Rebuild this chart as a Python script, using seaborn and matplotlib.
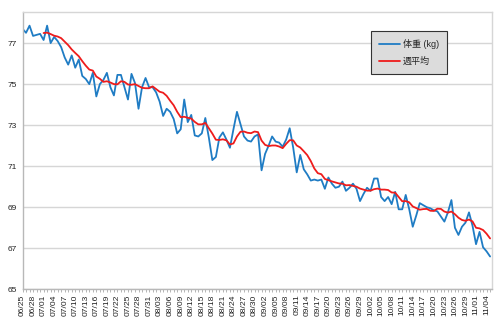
import matplotlib
matplotlib.use("Agg")
import matplotlib.pyplot as plt
import seaborn as sns
import pandas as pd
import numpy as np
from matplotlib.ticker import MultipleLocator

# ---- data ----
start_date = "2011-06-25"
weight = [
    77.7, 77.5, 77.85, 77.35, 77.4, 77.45, 77.15, 77.85, 77.0, 77.3,
    77.1, 76.8, 76.3, 75.95, 76.4, 75.8, 76.2, 75.4, 75.25, 75.0,
    75.55, 74.4, 75.0, 75.2, 75.55, 74.85, 74.45, 75.45, 75.45, 74.85,
    74.25, 75.5, 75.05, 73.8, 74.85, 75.3, 74.85, 74.85, 74.6, 74.15,
    73.45, 73.8, 73.65, 73.3, 72.6, 72.8, 74.25, 73.15, 73.5, 72.5,
    72.45, 72.6, 73.35, 72.4, 71.3, 71.45, 72.4, 72.65, 72.3, 71.9,
    72.8, 73.65, 73.05, 72.45, 72.25, 72.2, 72.45, 72.55, 70.8, 71.6,
    72.0, 72.45, 72.2, 72.15, 71.95, 72.3, 72.85, 71.9, 70.7, 71.55,
    70.85, 70.6, 70.3, 70.35, 70.3, 70.35, 69.9, 70.45, 70.15, 69.95,
    70.0, 70.25, 69.8, 69.95, 70.15, 69.9, 69.3, 69.65, 69.95, 69.8,
    70.4, 70.4, 69.5, 69.3, 69.5, 69.15, 69.75, 68.9, 68.9, 69.6,
    68.9, 68.05, 68.6, 69.2, 69.1, 69.0, 68.95, 68.85, 68.8, 68.55,
    68.3, 68.75, 69.35, 68.0, 67.65, 68.05, 68.25, 68.75, 68.1, 67.2,
    67.8, 67.05, 66.85, 66.6,
]
# weekly average line (starts on the 7th day)
weekly_avg = [
    77.49, 77.51, 77.44, 77.36, 77.32, 77.24, 77.07, 76.90, 76.69, 76.52,
    76.36, 76.12, 75.90, 75.71, 75.66, 75.37, 75.26, 75.11, 75.14, 75.08,
    75.00, 74.99, 75.14, 75.11, 74.98, 74.97, 75.00, 74.91, 74.82, 74.80,
    74.80, 74.89, 74.76, 74.63, 74.58, 74.43, 74.19, 73.97, 73.65, 73.39,
    73.41, 73.36, 73.32, 73.16, 73.04, 73.04, 73.11, 72.85, 72.59, 72.29,
    72.28, 72.31, 72.26, 72.06, 72.11, 72.45, 72.68, 72.69, 72.63, 72.61,
    72.69, 72.66, 72.25, 72.04, 71.98, 72.01, 72.01, 71.96, 71.88, 72.09,
    72.27, 72.26, 72.01, 71.91, 71.73, 71.54, 71.25, 70.89, 70.66, 70.61,
    70.38, 70.32, 70.26, 70.21, 70.16, 70.15, 70.07, 70.08, 70.04, 70.00,
    69.91, 69.86, 69.81, 69.81, 69.88, 69.91, 69.86, 69.86, 69.84, 69.72,
    69.71, 69.50, 69.29, 69.30, 69.24, 69.04, 68.96, 68.88, 68.91, 68.92,
    68.83, 68.82, 68.93, 68.92, 68.79, 68.74, 68.79, 68.66, 68.49, 68.38,
    68.34, 68.40, 68.31, 68.00, 67.97, 67.89, 67.71, 67.48,
]
y_ticks = [65, 67, 69, 71, 73, 75, 77]
series_names = ["体重 (kg)", "週平均"]

dates = pd.date_range(start_date, periods=len(weight))
date_labels = [d.strftime("%m/%d") for d in dates]
day = np.arange(len(weight))
avg_offset = len(weight) - len(weekly_avg)

df_w = pd.DataFrame({"day": day, "value": weight})
df_a = pd.DataFrame({"day": day[avg_offset:], "value": weekly_avg})

# ---- style ----
sns.set_style("white")
plt.rcParams["font.family"] = ["Liberation Sans", "Noto Sans CJK JP", "DejaVu Sans"]

fig = plt.figure(figsize=(5.0, 3.24), dpi=100)
ax = fig.add_axes([0.045, 0.107, 0.938, 0.855])

blue = "#1f7cc4"
red = "#ee1c1c"
sns.lineplot(data=df_w, x="day", y="value", ax=ax, color=blue, linewidth=1.3,
             label=series_names[0])
sns.lineplot(data=df_a, x="day", y="value", ax=ax, color=red, linewidth=1.3,
             label=series_names[1])

ax.set_xlim(0, 133.4)
ax.set_ylim(65, 78.5)
ax.set_yticks(y_ticks)
ax.set_yticklabels([str(v) for v in y_ticks], fontsize=6, color="#222222")
ax.set_xticks(day[::3])
ax.set_xticklabels(date_labels[::3], rotation=90, fontsize=6.1, color="#222222")
ax.xaxis.set_minor_locator(MultipleLocator(1))
ax.tick_params(axis="x", which="both", direction="out", length=2.2, width=0.6,
               color="#aaaaaa", bottom=True, pad=1.5)
ax.tick_params(axis="y", length=0, pad=4)
ax.set_xlabel("")
ax.set_ylabel("")

ax.yaxis.grid(True, color="#d6d6d6", linewidth=1.0)
ax.xaxis.grid(False)
ax.set_axisbelow(True)
for side in ["top", "right"]:
    ax.spines[side].set_color("#d6d6d6")
    ax.spines[side].set_linewidth(1.0)
for side in ["left", "bottom"]:
    ax.spines[side].set_color("#b8b8b8")
    ax.spines[side].set_linewidth(1.0)

leg = ax.legend(loc="upper left", bbox_to_anchor=(0.742, 0.905),
                bbox_transform=fig.transFigure, fontsize=6.5, frameon=True,
                fancybox=False, framealpha=1.0, facecolor="#dcdcdc",
                edgecolor="#333333", handlelength=2.3, handletextpad=0.3,
                labelspacing=0.9, borderpad=0.9, borderaxespad=0)
leg.get_frame().set_linewidth(0.8)

fig.savefig("out.png", dpi=100)
